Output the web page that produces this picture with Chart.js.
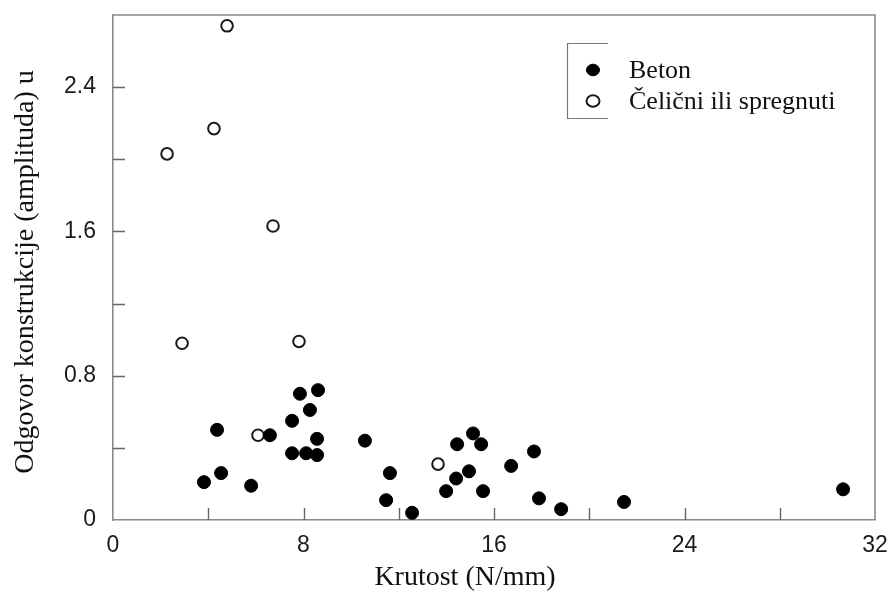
<!DOCTYPE html>
<html>
<head>
<meta charset="utf-8">
<script src="https://cdn.jsdelivr.net/npm/chart.js@4/dist/chart.umd.min.js"></script>
<style>
  html, body { margin: 0; padding: 0; background: #fff; }
  #wrap { width: 888px; height: 595px; position: relative; }
</style>
</head>
<body>
<div id="wrap"><canvas id="c" width="888" height="595"></canvas></div>
<script>
// Krutost (N/mm) i odgovor konstrukcije za betonske stropove
const betonX = [4.37, 4.54, 3.82, 5.80, 6.59, 7.52, 7.85, 8.61, 8.27, 8.57, 7.52, 8.11, 8.57,
                10.58, 11.63, 11.47, 12.56, 14.45, 15.12, 15.46, 14.95, 14.41, 13.99, 15.54,
                16.72, 17.68, 17.89, 18.82, 21.46, 30.66];
const betonY = [0.50, 0.26, 0.21, 0.19, 0.47, 0.55, 0.70, 0.72, 0.61, 0.45, 0.37, 0.37, 0.36,
                0.44, 0.26, 0.11, 0.04, 0.42, 0.48, 0.42, 0.27, 0.23, 0.16, 0.16,
                0.30, 0.38, 0.12, 0.06, 0.10, 0.17];

// Čelični ili spregnuti stropovi
const celikX = [4.79, 4.24, 2.27, 6.72, 2.90, 7.81, 6.09, 13.65];
const celikY = [2.74, 2.17, 2.03, 1.63, 0.98, 0.99, 0.47, 0.31];

const seriesNames = ['Beton', 'Čelični ili spregnuti'];
const xTitle = 'Krutost (N/mm)';
const yTitle = 'Odgovor konstrukcije (amplituda) u';

const xMin = 0, xMax = 32, xStep = 4, xLabelEvery = 8;
const yMin = 0, yMax = 2.8, yStep = 0.4, yLabelEvery = 0.8;

const toPoints = (xs, ys) => xs.map((x, i) => ({ x: x, y: ys[i] }));

const isMultiple = (v, step) => Math.abs(v / step - Math.round(v / step)) < 1e-6;

const AXIS_GRAY = '#8a8a8a';
const INK = '#111';
const SERIF = '"Liberation Serif", "Times New Roman", serif';

// inward tick marks, frame, axis titles and legend box
const decorations = {
  id: 'decorations',
  afterDraw(chart) {
    const ctx = chart.ctx;
    const a = chart.chartArea;
    const xs = chart.scales.x, ys = chart.scales.y;
    ctx.save();
    ctx.strokeStyle = AXIS_GRAY;
    ctx.lineWidth = 1.6;
    // top and right frame
    ctx.beginPath();
    ctx.moveTo(a.left, a.top); ctx.lineTo(a.right, a.top); ctx.lineTo(a.right, a.bottom);
    ctx.stroke();
    // inward ticks
    ctx.strokeStyle = '#666';
    ctx.lineWidth = 1.4;
    ctx.beginPath();
    for (let v = xMin + xStep; v < xMax - 1e-9; v += xStep) {
      const px = Math.round(xs.getPixelForValue(v)) + 0.5;
      ctx.moveTo(px, a.bottom); ctx.lineTo(px, a.bottom - 12);
    }
    for (let v = yMin + yStep; v < yMax - 1e-9; v += yStep) {
      const py = Math.round(ys.getPixelForValue(v)) + 0.5;
      ctx.moveTo(a.left, py); ctx.lineTo(a.left + 12, py);
    }
    ctx.stroke();

    // axis titles
    ctx.fillStyle = INK;
    ctx.font = '28px ' + SERIF;
    ctx.textAlign = 'center';
    ctx.textBaseline = 'middle';
    ctx.fillText(xTitle, 465, 578);
    ctx.save();
    ctx.translate(26, 272);
    ctx.rotate(-Math.PI / 2);
    ctx.fillText(yTitle, 0, 0);
    ctx.restore();

    // legend
    const lx = 567, ly = 43, lb = 118;
    ctx.strokeStyle = '#777';
    ctx.lineWidth = 1.2;
    ctx.beginPath();
    ctx.moveTo(608, ly + 0.5); ctx.lineTo(lx + 0.5, ly + 0.5);
    ctx.lineTo(lx + 0.5, lb + 0.5); ctx.lineTo(608, lb + 0.5);
    ctx.stroke();

    const rows = [70, 101];
    chart.data.datasets.forEach((ds, i) => {
      const cy = rows[i];
      ctx.beginPath();
      ctx.ellipse(593, cy, 6.5, 5.8, 0, 0, Math.PI * 2);
      ctx.fillStyle = ds.backgroundColor;
      ctx.fill();
      ctx.lineWidth = ds.borderWidth;
      ctx.strokeStyle = ds.borderColor;
      ctx.stroke();
      ctx.fillStyle = INK;
      ctx.textAlign = 'left';
      ctx.textBaseline = 'middle';
      ctx.font = '26px ' + SERIF;
      ctx.fillText(ds.label, 629, cy + 1);
    });
    ctx.restore();
  }
};

new Chart(document.getElementById('c'), {
  type: 'scatter',
  data: {
    datasets: [
      {
        label: seriesNames[0],
        data: toPoints(betonX, betonY),
        backgroundColor: '#000',
        borderColor: '#000',
        borderWidth: 1,
        pointRadius: 6.5,
        pointHoverRadius: 6.5
      },
      {
        label: seriesNames[1],
        data: toPoints(celikX, celikY),
        backgroundColor: '#fff',
        borderColor: '#1a1a1a',
        borderWidth: 2,
        pointRadius: 5.8,
        pointHoverRadius: 5.8
      }
    ]
  },
  options: {
    responsive: false,
    animation: false,
    devicePixelRatio: 1,
    layout: { padding: { top: 15, right: 13, left: 0, bottom: 0 } },
    plugins: {
      legend: { display: false },
      tooltip: { enabled: false }
    },
    scales: {
      x: {
        type: 'linear',
        min: xMin, max: xMax,
        afterFit(scale) {
          scale.height = 75;
          scale.paddingLeft = 0;
          scale.paddingRight = 0;
        },
        grid: { display: false, drawTicks: false },
        border: { display: true, color: AXIS_GRAY, width: 1.6 },
        ticks: {
          stepSize: xStep,
          padding: 12,
          color: '#1a1a1a',
          font: { family: '"Liberation Sans", Arial, sans-serif', size: 23 },
          maxRotation: 0,
          autoSkip: false,
          callback: (v) => isMultiple(v, xLabelEvery) ? String(v) : ''
        }
      },
      y: {
        type: 'linear',
        min: yMin, max: yMax,
        afterFit(scale) {
          scale.width = 113;
          scale.paddingTop = 0;
          scale.paddingBottom = 0;
        },
        grid: { display: false, drawTicks: false },
        border: { display: true, color: AXIS_GRAY, width: 1.6 },
        ticks: {
          stepSize: yStep,
          padding: 17,
          color: '#1a1a1a',
          font: { family: '"Liberation Sans", Arial, sans-serif', size: 23 },
          autoSkip: false,
          callback: (v) => isMultiple(v, yLabelEvery) && v < yMax ? (Math.round(v * 10) / 10).toString() : ''
        }
      }
    }
  },
  plugins: [decorations]
});
</script>
</body>
</html>
